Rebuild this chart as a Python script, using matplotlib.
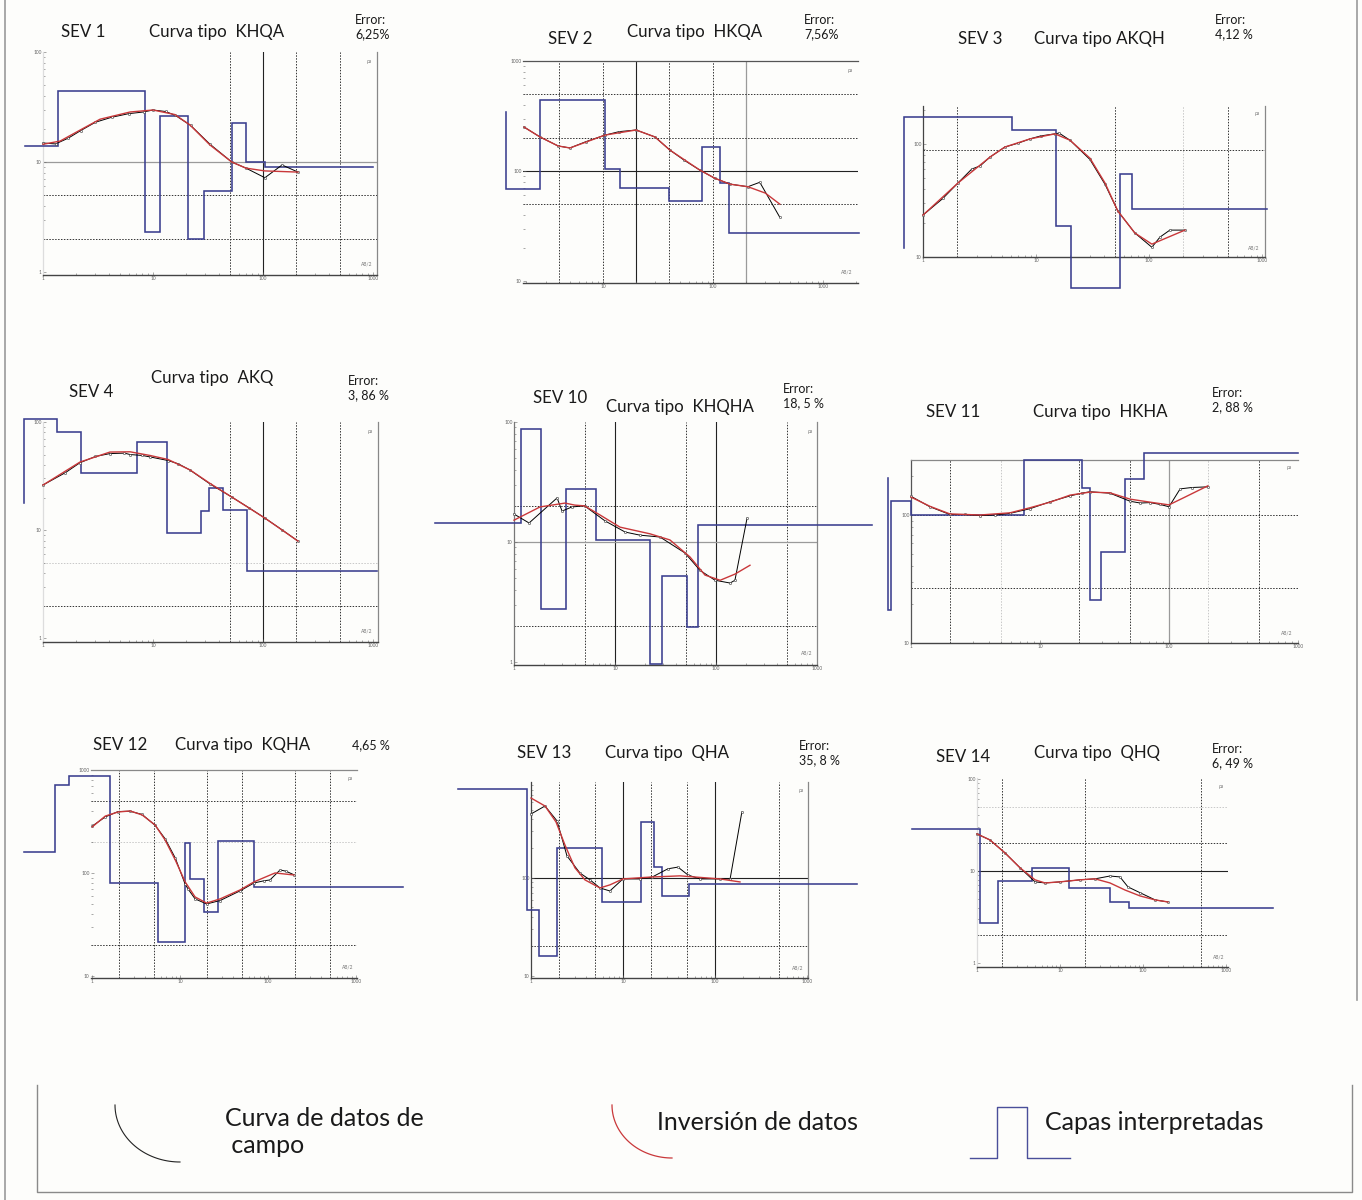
import numpy as np
import matplotlib
matplotlib.use("Agg")
import matplotlib.pyplot as plt
from matplotlib.ticker import LogLocator, NullFormatter, FuncFormatter

plt.rcParams['font.family'] = ['Lato', 'DejaVu Sans']

# ---------------- DATA (AB/2 in m, apparent resistivity in ohm.m) ----------------
titles = ["SEV 1", "SEV 2", "SEV 3", "SEV 4", "SEV 10", "SEV 11", "SEV 12", "SEV 13", "SEV 14"]
curve_types = ["Curva tipo  KHQA", "Curva tipo  HKQA", "Curva tipo AKQH", "Curva tipo  AKQ",
               "Curva tipo  KHQHA", "Curva tipo  HKHA", "Curva tipo  KQHA", "Curva tipo  QHA",
               "Curva tipo  QHQ"]
errors = ["Error:\n6,25%", "Error:\n7,56%", "Error:\n4,12 %", "Error:\n3, 86 %", "Error:\n18, 5 %",
          "Error:\n2, 88 %", "4,65 %", "Error:\n35, 8 %", "Error:\n6, 49 %"]
legend_labels = ["Curva de datos de\n campo", "Inversión de datos", "Capas interpretadas"]

# SEV 1
sev1_layer_x = [0.686, 1.37, 8.46, 11.6, 20.8, 29.1, 52, 70, 104, 1000]
sev1_layer_rho = [14.0, 44.2, 2.31, 26.2, 2.0, 5.45, 22.6, 10, 9.0]
sev1_field_x = [1, 1.3, 1.7, 2.2, 3.0, 4.2, 6.0, 8.2, 10, 13, 16, 22, 33, 52, 70, 104, 149, 208]
sev1_field_y = [14.9, 14.6, 16.5, 19.3, 23, 25.5, 27.5, 28.5, 29.7, 28.8, 26.5, 21.5, 14.5, 10, 8.8, 7.2, 9.4, 8.1]
sev1_inv_x = [1, 1.43, 2.17, 3.3, 6.2, 10, 15.8, 21.7, 32.9, 52, 70, 104, 208]
sev1_inv_y = [14.5, 15.5, 19.5, 24.5, 28.5, 29.7, 27, 21.7, 14.3, 10, 8.8, 8.3, 8.1]

# SEV 2
sev2_layer_x = [1.31, 2.67, 10.4, 14.3, 39.8, 79.4, 116, 140, 2125]
sev2_layer_rho = [68.6, 442, 104, 70, 53.4, 165, 77.8, 27.3]
sev2_layer_start = 344
sev2_field_x = [1.91, 2.67, 3.9, 5.0, 7.0, 10.4, 14, 20, 29.7, 40.6, 55, 76, 104, 143, 208, 267, 406]
sev2_field_y = [251, 204, 169, 162, 185, 212, 228, 236, 204, 155, 125, 102, 86, 76, 72, 79, 38]
sev2_inv_x = [1.91, 2.67, 3.9, 5.0, 10.4, 20, 29.7, 40.6, 76, 104, 143, 208, 300, 406]
sev2_inv_y = [251, 204, 169, 162, 212, 236, 204, 155, 102, 86, 76, 72, 63, 50]

# SEV 3
sev3_layer_x = [0.68, 6.13, 15.0, 20.4, 55.4, 70.7, 1107]
sev3_layer_rho = [173, 133, 18.8, 5.3, 54.3, 26.6]
sev3_layer_start = 12.0
sev3_field_x = [1, 1.5, 2.04, 2.7, 3.2, 3.92, 5.3, 7, 8.85, 11, 14.7, 16, 20, 30, 40.8, 53, 75, 106, 125, 153, 208]
sev3_field_y = [23.5, 33, 45.2, 60, 64, 76.7, 94, 102, 111, 118, 123, 125, 108, 73, 44, 25.5, 16.3, 12.2, 15, 17.3, 17.3]
sev3_inv_x = [1, 2.04, 3.92, 5.3, 8.85, 14.7, 20, 30, 40.8, 53, 75, 106, 208]
sev3_inv_y = [23.5, 45.2, 76.7, 94, 111, 123, 108, 75, 45.2, 25.5, 16.3, 13, 17.3]

# SEV 4
sev4_layer_x = [0.67, 1.34, 2.22, 7.16, 13.4, 27.3, 32.3, 43.3, 71.6, 1087]
sev4_layer_rho = [107, 80.8, 33.7, 65.3, 9.4, 15.0, 24.5, 15.3, 4.17]
sev4_layer_start = 17.8
sev4_field_x = [1, 1.6, 2.17, 3.0, 4.06, 5.5, 6.18, 8.0, 9.4, 13.7, 17, 21.7, 33, 52, 75, 104, 150, 208]
sev4_field_y = [26.1, 34, 42, 48, 51, 51.5, 50, 49, 47.5, 44, 41, 35.9, 26.7, 20.2, 16, 12.9, 10, 7.9]
sev4_inv_x = [1, 2.17, 4.06, 6.18, 9.4, 13.7, 21.7, 33, 52, 104, 208]
sev4_inv_y = [26.1, 42.6, 52.7, 53, 49, 45, 36, 27, 20.2, 12.9, 7.9]

# SEV 10
sev10_layer_x = [0.165, 1.17, 1.85, 3.27, 6.48, 22.2, 29.2, 51.6, 66.3, 3508]
sev10_layer_rho = [14.4, 87.5, 2.77, 27.7, 10.4, 0.96, 5.2, 1.96, 13.9]
sev10_field_x = [1, 1.41, 2.67, 2.99, 3.75, 5.0, 7.96, 12.6, 17.7, 27.9, 49.3, 69.5, 97.8, 138, 154, 203]
sev10_field_y = [17.1, 14.4, 23.3, 18.1, 19.6, 20, 15.0, 12.1, 11.4, 11.0, 8.1, 5.8, 4.8, 4.55, 4.8, 15.8]
sev10_inv_x = [1, 1.81, 3.2, 4.0, 5.0, 7.1, 11.2, 22.2, 35, 55.3, 77.8, 110, 154, 217]
sev10_inv_y = [15.2, 19.6, 21.1, 20.3, 20, 16.8, 13.3, 11.7, 10.4, 7.5, 5.3, 4.8, 5.4, 6.4]

# SEV 11
sev11_layer_x = [0.66, 0.70, 1.0, 7.5, 21.2, 24.4, 29.7, 45.6, 64, 1000]
sev11_layer_rho = [18.1, 129, 100, 269, 163, 21.7, 51.4, 191, 305]
sev11_layer_start = 195
sev11_field_x = [1, 1.4, 2.0, 2.6, 3.43, 4.5, 5.85, 8.37, 12, 17.1, 21, 24.4, 34.9, 50, 60, 71.3, 85, 100, 122, 150, 200]
sev11_field_y = [140, 116, 101, 101, 99, 100, 103, 112, 127, 141, 148, 152, 148, 128, 124, 125, 121, 116, 160, 164, 166]
sev11_inv_x = [1, 1.4, 2.0, 3.43, 5.85, 8.37, 12, 17.1, 24.4, 34.9, 50, 71.3, 100, 133, 200]
sev11_inv_y = [138, 117, 102, 100, 104, 114, 126, 143, 151, 149, 133, 126, 120, 138, 169]

# SEV 12
sev12_layer_x = [0.169, 0.38, 0.548, 1.6, 5.6, 11.4, 13, 18.7, 27, 69.3, 3420]
sev12_layer_rho = [160, 715, 875, 80, 21.4, 196, 87.5, 41.8, 205, 73.1]
sev12_field_x = [1, 1.41, 1.97, 2.7, 3.7, 5.2, 6.75, 8.8, 11.4, 12.3, 14.8, 20, 28.5, 48, 69.3, 90, 105, 137, 160, 197]
sev12_field_y = [285, 350, 395, 398, 370, 290, 215, 140, 78, 70, 56, 50, 54, 67, 80, 84, 85.5, 107, 104, 96]
sev12_inv_x = [1, 1.41, 1.97, 2.7, 3.7, 5.2, 6.75, 8.8, 11.4, 14.8, 20, 28.5, 48, 69.3, 120, 197]
sev12_inv_y = [280, 357, 391, 400, 366, 292, 209, 134, 82, 58.5, 51, 56, 68.4, 82, 100, 95.6]

# SEV 13
sev13_layer_x = [0.161, 0.905, 1.22, 1.92, 5.9, 15.7, 21.7, 26.5, 52, 3500]
sev13_layer_rho = [809, 47.1, 16, 202, 56.9, 373, 129, 65.5, 86.9]
sev13_field_x = [1, 1.42, 1.92, 2.46, 3.41, 4.38, 5.62, 7.2, 10, 15.3, 20.7, 30.8, 39.6, 51, 68.7, 113, 146, 196]
sev13_field_y = [450, 543, 382, 168, 112, 95.5, 79, 73.6, 97.7, 97.7, 102, 124, 129, 107, 97.7, 97.7, 97.7, 472]
sev13_inv_x = [1, 1.42, 1.87, 2.34, 3.0, 3.86, 5.62, 7.2, 10, 19.7, 41.7, 113, 187]
sev13_inv_y = [655, 543, 373, 217, 127, 95.5, 79, 84.9, 97.7, 102, 105, 97.7, 91]

# SEV 14
sev14_layer_x = [0.165, 1.09, 1.79, 4.6, 12.8, 40, 67.8, 3680]
sev14_layer_rho = [28.6, 2.72, 7.8, 10.8, 6.5, 4.6, 3.96]
sev14_field_x = [1, 1.43, 2.17, 3.3, 5.0, 6.6, 10, 17.4, 26.4, 40, 52.8, 65.9, 92, 140, 200]
sev14_field_y = [25.2, 21.7, 15.7, 10.8, 7.6, 7.4, 7.6, 8.0, 8.2, 8.8, 8.6, 6.7, 5.8, 4.84, 4.6]
sev14_inv_x = [1, 1.43, 2.17, 3.3, 5.0, 6.6, 10, 17.4, 26.4, 40, 60.7, 92, 140, 200]
sev14_inv_y = [25.2, 21.7, 15.7, 10.8, 8.0, 7.4, 7.6, 8.0, 8.2, 7.4, 6.2, 5.35, 4.84, 4.6]

# ---------------- LAYOUT / STYLE ----------------
W, H = 1362, 1200
BG = '#fdfdfb'
BLUE = '#3a3e8e'
RED = '#c9383a'

fig = plt.figure(figsize=(W / 100, H / 100), dpi=100, facecolor=BG)

# background decorations (frames) in pixel coordinates
deco = fig.add_axes([0, 0, 1, 1], zorder=-5)
deco.set_xlim(0, W); deco.set_ylim(H, 0); deco.axis('off')
deco.plot([5, 5], [0, 1200], color='#9a9a9a', lw=1.2)
deco.plot([1357, 1357], [0, 1000], color='#9a9a9a', lw=1.2)
deco.plot([37, 37, 1352, 1352], [1085, 1192, 1192, 1085], color='#8a8a8a', lw=1.0)

def px_axes(L, T, R, B):
    return fig.add_axes([L / W, 1 - B / H, (R - L) / W, (B - T) / H])

GRID = {
    'd': dict(color='#333333', lw=0.7, ls=(0, (1.5, 1.5))),
    'l': dict(color='#c8c8c8', lw=0.7, ls=(0, (1.5, 1.5))),
    's': dict(color='#222222', lw=0.8, ls='-'),
    'g': dict(color='#9a9a9a', lw=0.9, ls='-'),
}

def step_points(xe, rho, start=None):
    xs, ys = [], []
    if start is not None:
        xs.append(xe[0]); ys.append(start)
    for i, r in enumerate(rho):
        xs += [xe[i], xe[i + 1]]
        ys += [r, r]
    return xs, ys

def fmt(v, p):
    return f"{v:g}"

def panel(rect, xlim, ylim, vgrid, hgrid, spines, lx, lr, lstart, fx, fy, ix, iy):
    ax = px_axes(*rect)
    ax.set_xscale('log'); ax.set_yscale('log')
    ax.set_xlim(*xlim); ax.set_ylim(*ylim)
    ax.patch.set_alpha(0)
    for v, s in vgrid:
        ax.axvline(v, zorder=1, **GRID[s])
    for h, s in hgrid:
        ax.axhline(h, zorder=1, **GRID[s])
    for side in ['top', 'bottom', 'left', 'right']:
        c = spines.get(side)
        if c is None:
            ax.spines[side].set_visible(False)
        else:
            ax.spines[side].set_color(c)
            ax.spines[side].set_linewidth(1.0 if side == 'bottom' else 0.9)
    ax.tick_params(which='both', labelsize=3.5, colors='#666666', length=2, width=0.4,
                   pad=1, direction='in')
    ax.tick_params(which='minor', length=1.2)
    ax.xaxis.set_major_locator(LogLocator(base=10))
    ax.yaxis.set_major_locator(LogLocator(base=10))
    ax.xaxis.set_minor_formatter(NullFormatter())
    ax.yaxis.set_minor_formatter(NullFormatter())
    ax.xaxis.set_major_formatter(FuncFormatter(fmt))
    ax.yaxis.set_major_formatter(FuncFormatter(fmt))
    sx, sy = step_points(lx, lr, lstart)
    ax.plot(sx, sy, color=BLUE, lw=1.15, clip_on=False, zorder=3, solid_joinstyle='miter')
    ax.plot(fx, fy, color='black', lw=0.7, marker='o', ms=1.6, mfc='white', mec='#333333',
            mew=0.4, clip_on=False, zorder=4)
    ax.plot(ix, iy, color=RED, lw=1.0, clip_on=False, zorder=5)
    ax.text(0.985, 0.97, 'ρa', transform=ax.transAxes, fontsize=3.5, color='#777', ha='right', va='top')
    ax.text(0.985, 0.04, 'AB/2', transform=ax.transAxes, fontsize=3.5, color='#777', ha='right', va='bottom')
    return ax

def ftext(x, y, s, size, ha='center', va='center', **kw):
    fig.text(x / W, 1 - y / H, s, fontsize=size, ha=ha, va=va, color='#1a1a1a', **kw)

panels = [
    dict(rect=(43, 52, 377, 275), xlim=(1, 1087), ylim=(0.94, 100),
         vgrid=[(50, 'd'), (100, 's'), (200, 'd'), (500, 'd')],
         hgrid=[(10, 'g'), (5, 'd'), (2, 'd')],
         spines={'bottom': '#444444', 'left': '#dddddd', 'right': '#888888'},
         data=(sev1_layer_x, sev1_layer_rho, None, sev1_field_x, sev1_field_y, sev1_inv_x, sev1_inv_y),
         t=((83, 32), (217, 32), (355, 27))),
    dict(rect=(523, 61, 858, 283), xlim=(1.87, 2090), ylim=(9.6, 1000),
         vgrid=[(4, 'd'), (10, 'd'), (20, 's'), (40, 'd'), (100, 'd'), (200, 'g')],
         hgrid=[(500, 'd'), (200, 'd'), (100, 's'), (50, 'd')],
         spines={'bottom': '#444444', 'top': '#555555'},
         data=(sev2_layer_x, sev2_layer_rho, sev2_layer_start, sev2_field_x, sev2_field_y, sev2_inv_x, sev2_inv_y),
         t=((570, 39), (695, 32), (804, 27))),
    dict(rect=(923, 106, 1265, 257), xlim=(1, 1063), ylim=(10, 217),
         vgrid=[(2, 'd'), (50, 'd'), (200, 'l'), (500, 'd')],
         hgrid=[(88, 'd')],
         spines={'bottom': '#444444', 'left': '#444444', 'right': '#888888'},
         data=(sev3_layer_x, sev3_layer_rho, sev3_layer_start, sev3_field_x, sev3_field_y, sev3_inv_x, sev3_inv_y),
         t=((980, 39), (1099, 39), (1215, 27))),
    dict(rect=(43, 422, 378, 642), xlim=(1, 1110), ylim=(0.92, 100),
         vgrid=[(50, 'd'), (100, 's'), (200, 'd'), (500, 'd')],
         hgrid=[(5, 'l'), (2, 'd')],
         spines={'bottom': '#444444', 'left': '#dddddd', 'right': '#888888'},
         data=(sev4_layer_x, sev4_layer_rho, sev4_layer_start, sev4_field_x, sev4_field_y, sev4_inv_x, sev4_inv_y),
         t=((91, 392), (212, 378), (348, 388))),
    dict(rect=(514, 422, 817, 665), xlim=(1, 1000), ylim=(0.944, 100),
         vgrid=[(5, 'd'), (10, 's'), (50, 'd'), (100, 's'), (500, 'd')],
         hgrid=[(20, 'd'), (10, 'g'), (2, 'd')],
         spines={'bottom': '#444444', 'left': '#777777', 'right': '#888888'},
         data=(sev10_layer_x, sev10_layer_rho, None, sev10_field_x, sev10_field_y, sev10_inv_x, sev10_inv_y),
         t=((560, 398), (680, 407), (783, 396))),
    dict(rect=(911, 460, 1298, 643), xlim=(1, 1000), ylim=(10, 269),
         vgrid=[(2, 'd'), (5, 'l'), (20, 'd'), (50, 'd'), (100, 'g'), (200, 'l'), (500, 'd')],
         hgrid=[(100, 'd'), (27, 'd')],
         spines={'bottom': '#444444', 'left': '#555555', 'top': '#888888'},
         data=(sev11_layer_x, sev11_layer_rho, sev11_layer_start, sev11_field_x, sev11_field_y, sev11_inv_x, sev11_inv_y),
         t=((953, 412), (1100, 412), (1212, 400))),
    dict(rect=(91, 770, 357, 978), xlim=(0.97, 1026), ylim=(9.55, 1000),
         vgrid=[(2, 'd'), (5, 'd'), (20, 'd'), (50, 'd'), (200, 'd'), (500, 'd')],
         hgrid=[(500, 'd'), (200, 'l'), (20, 'd')],
         spines={'bottom': '#444444', 'top': '#888888'},
         data=(sev12_layer_x, sev12_layer_rho, None, sev12_field_x, sev12_field_y, sev12_inv_x, sev12_inv_y),
         t=((120, 745), (243, 745), (352, 745))),
    dict(rect=(531, 782, 808, 978), xlim=(1, 1026), ylim=(9.5, 955),
         vgrid=[(2, 'd'), (5, 'd'), (10, 's'), (20, 'd'), (50, 'd'), (100, 's'), (500, 'd')],
         hgrid=[(100, 's'), (20, 'd')],
         spines={'bottom': '#444444', 'left': '#444444', 'right': '#888888'},
         data=(sev13_layer_x, sev13_layer_rho, None, sev13_field_x, sev13_field_y, sev13_inv_x, sev13_inv_y),
         t=((544, 753), (667, 753), (799, 753))),
    dict(rect=(977, 778, 1228, 967), xlim=(1, 1057), ylim=(0.905, 102),
         vgrid=[(2, 'd'), (20, 'd'), (500, 'd')],
         hgrid=[(50, 'l'), (20, 'd'), (10, 's'), (2, 'd')],
         spines={'bottom': '#444444', 'left': '#dddddd'},
         data=(sev14_layer_x, sev14_layer_rho, None, sev14_field_x, sev14_field_y, sev14_inv_x, sev14_inv_y),
         t=((963, 757), (1097, 753), (1212, 756))),
]

for k, p in enumerate(panels):
    panel(p['rect'], p['xlim'], p['ylim'], p['vgrid'], p['hgrid'], p['spines'], *p['data'])
    (sx, sy), (cx, cy), (ex, ey) = p['t']
    ftext(sx, sy, titles[k], 12.2)
    ftext(cx, cy, curve_types[k], 12.2)
    ftext(ex, ey, errors[k], 9, ha='left', linespacing=1.2)

# ---------------- legend (bottom box) ----------------
t = np.linspace(0, np.pi / 2, 40)
deco.plot(180 - 65 * np.cos(t), 1105 + 57 * np.sin(t), color='#222222', lw=0.8)
deco.plot(672 - 60 * np.cos(t), 1105 + 53 * np.sin(t), color=RED, lw=0.9)
deco.plot([970, 997, 997, 1027, 1027, 1070], [1158, 1158, 1107, 1107, 1158, 1158], color='#4a4f9a', lw=1.0)
ftext(225, 1132, legend_labels[0], 18, ha='left', linespacing=1.2)
ftext(657, 1123, legend_labels[1], 18, ha='left')
ftext(1045, 1123, legend_labels[2], 18, ha='left')

fig.savefig('out.png', dpi=100, facecolor=BG)
